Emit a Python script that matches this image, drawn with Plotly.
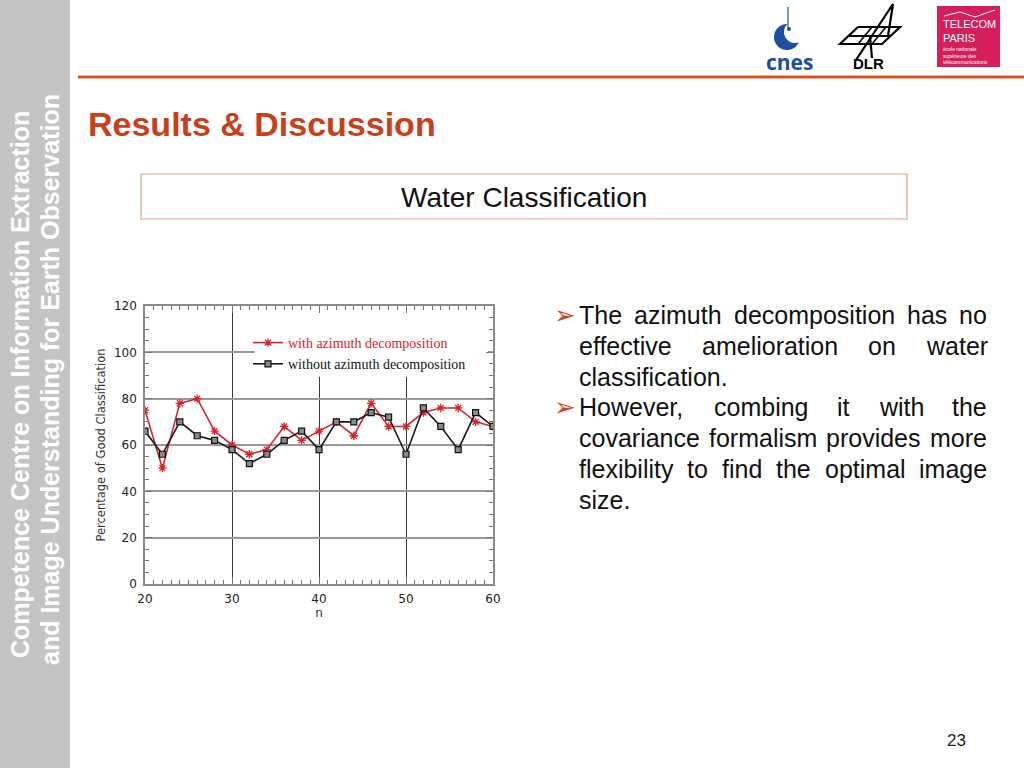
import plotly.graph_objects as go

# ---------------- data ----------------
n_values = list(range(20, 61, 2))
with_azimuth = [75, 50, 78, 80, 66, 60, 56, 58, 68, 62, 66, 70, 64, 78, 68, 68, 74, 76, 76, 70, 68]
without_azimuth = [66, 56, 70, 64, 62, 58, 52, 56, 62, 66, 58, 70, 70, 74, 72, 56, 76, 68, 58, 74, 68]
y_ticks = [0, 20, 40, 60, 80, 100, 120]
x_ticks = [20, 30, 40, 50, 60]

series_names = ["with azimuth decomposition", "without azimuth decomposition"]

slide_title = "Results & Discussion"
box_title = "Water Classification"
side_line1 = "Competence Centre on Information Extraction"
side_line2 = "and Image Understanding for Earth Observation"
bullet_lines = [
    ("The azimuth decomposition has no", True, True),
    ("effective amelioration on water", False, True),
    ("classification.", False, False),
    ("However, combing it with the", True, True),
    ("covariance formalism provides more", False, True),
    ("flexibility to find the optimal image", False, True),
    ("size.", False, False),
]
page_number = "23"

W, H = 1024, 768


def px(x):
    return x / W


def py(y):
    return 1 - y / H


RED = "#d8232a"
TITLE_ORANGE = "#c8401a"

fig = go.Figure()

fig.add_trace(go.Scatter(
    x=n_values, y=with_azimuth, mode="lines+markers",
    name="<span style='color:#d8232a'>" + series_names[0] + "</span>",
    line=dict(color=RED, width=1.6),
    marker=dict(symbol="asterisk-open", size=7, line=dict(color=RED, width=1.3)),
))
fig.add_trace(go.Scatter(
    x=n_values, y=without_azimuth, mode="lines+markers",
    name=series_names[1],
    line=dict(color="#1a1a1a", width=1.6),
    marker=dict(symbol="square", size=6, color="#8a8a8a", line=dict(color="#111", width=1.2)),
))

# plot area in pixels: x 145..493, y 306..584
x_dom = [px(145), px(493)]
y_dom = [py(584), py(306)]

tick_font = dict(family="DejaVu Sans", size=12, color="#222")

fig.update_xaxes(
    domain=x_dom, range=[20, 60], tickvals=x_ticks, ticktext=[str(v) for v in x_ticks],
    showgrid=True, gridcolor="#3a3a3a", gridwidth=1,
    showline=True, linecolor="#8a8a8a", linewidth=1.5, mirror="allticks",
    ticks="inside", ticklen=7, tickcolor="#777", tickwidth=1,
    minor=dict(dtick=1, ticks="inside", ticklen=4, tickcolor="#777", showgrid=False),
    tickfont=tick_font, zeroline=False, ticklabelstandoff=3,
    title=dict(text="n", font=dict(family="DejaVu Sans", size=12, color="#333"), standoff=2),
    automargin=False,
)
fig.update_yaxes(
    domain=y_dom, range=[0, 120], tickvals=y_ticks, ticktext=[str(v) for v in y_ticks],
    showgrid=True, gridcolor="#9a9a9a", gridwidth=1.5,
    showline=True, linecolor="#8a8a8a", linewidth=1.5, mirror="allticks",
    ticks="inside", ticklen=7, tickcolor="#777", tickwidth=1,
    minor=dict(dtick=5, ticks="inside", ticklen=4, tickcolor="#777", showgrid=False),
    tickfont=tick_font, zeroline=False, ticklabelstandoff=4,
    title=dict(text="Percentage of Good Classification",
               font=dict(family="DejaVu Sans", size=11.5, color="#333"), standoff=6),
    automargin=False,
)

shapes = []
# white box behind legend (hides grid lines)
shapes.append(dict(type="rect", xref="x", yref="y", x0=32.6, x1=59.4, y0=89.5, y1=118.5,
                   fillcolor="white", line=dict(width=0), layer="between"))

# left gray bar
shapes.append(dict(type="rect", xref="paper", yref="paper", x0=0, x1=px(70), y0=0, y1=1,
                   fillcolor="#c4c4c4", line=dict(width=0), layer="below"))
# orange rule
shapes.append(dict(type="line", xref="paper", yref="paper", x0=px(78), x1=1, y0=py(77), y1=py(77),
                   line=dict(color="#d4561f", width=3)))
# water classification box
shapes.append(dict(type="rect", xref="paper", yref="paper", x0=px(141), x1=px(907), y0=py(219), y1=py(174),
                   fillcolor="white", line=dict(color="#e6a283", width=1.2), layer="below"))


# cnes logo (crescent)
def circle(cx, cy, r, color):
    return dict(type="circle", xref="paper", yref="paper", x0=px(cx - r), x1=px(cx + r),
                y0=py(cy + r), y1=py(cy - r), fillcolor=color, line=dict(width=0))


shapes.append(circle(787, 37, 13, "#1f4e9a"))
shapes.append(circle(795, 32, 11, "white"))
shapes.append(dict(type="line", xref="paper", yref="paper", x0=px(788), x1=px(788), y0=py(7), y1=py(28),
                   line=dict(color="#1f4e9a", width=1.2)))
shapes.append(circle(789, 29, 2, "#1f4e9a"))


# DLR logo (outline)
def pline(pts, width=2.2, color="black"):
    path = "M " + " L ".join(f"{px(a):.5f},{py(b):.5f}" for a, b in pts)
    return dict(type="path", xref="paper", yref="paper", path=path, line=dict(color=color, width=width))


shapes.append(pline([(858, 27), (900, 27), (882, 44), (840, 44), (858, 27)]))
shapes.append(pline([(849, 36), (891, 36)]))
shapes.append(pline([(872, 27), (858, 44)], 1.6))
shapes.append(pline([(886, 27), (872, 44)], 1.6))
shapes.append(pline([(856, 60), (893, 4), (888, 36)], 2.2))
shapes.append(pline([(870, 36), (872, 58)], 2.2))

# telecom paris box
shapes.append(dict(type="rect", xref="paper", yref="paper", x0=px(937), x1=px(1000), y0=py(67), y1=py(6),
                   fillcolor="#d61f5a", line=dict(width=0)))
shapes.append(pline([(944, 16), (960, 12), (975, 17), (995, 10)], 1, "white"))

annotations = []

# sidebar vertical texts
annotations.append(dict(text=side_line1, xref="paper", yref="paper", x=px(20), y=py(385),
                        textangle=-90, showarrow=False, xanchor="center", yanchor="middle",
                        font=dict(family="Liberation Sans", size=25, color="white", weight="bold")))
annotations.append(dict(text=side_line2, xref="paper", yref="paper", x=px(50), y=py(380),
                        textangle=-90, showarrow=False, xanchor="center", yanchor="middle",
                        font=dict(family="Liberation Sans", size=25, color="white", weight="bold")))

# title
annotations.append(dict(text=slide_title, xref="paper", yref="paper", x=px(86), y=py(124),
                        showarrow=False, xanchor="left", yanchor="middle",
                        font=dict(family="Liberation Sans", size=34, color=TITLE_ORANGE, weight="bold")))
# box title
annotations.append(dict(text=box_title, xref="paper", yref="paper", x=px(524), y=py(197),
                        showarrow=False, xanchor="center", yanchor="middle",
                        font=dict(family="Liberation Sans", size=28, color="#111")))

# logo texts
annotations.append(dict(text="cnes", xref="paper", yref="paper", x=px(789), y=py(62),
                        showarrow=False, xanchor="center", yanchor="middle",
                        font=dict(family="Open Sans", size=21, color="#1f4e9a", weight="bold")))
annotations.append(dict(text="DLR", xref="paper", yref="paper", x=px(868), y=py(63),
                        showarrow=False, xanchor="center", yanchor="middle",
                        font=dict(family="Liberation Sans", size=15, color="black", weight="bold")))
annotations.append(dict(text="TELECOM<br>PARIS", xref="paper", yref="paper", x=px(941), y=py(31),
                        showarrow=False, xanchor="left", yanchor="middle", align="left",
                        font=dict(family="Liberation Sans", size=11, color="white")))
annotations.append(dict(text="école nationale<br>supérieure des<br>télécommunications", xref="paper", yref="paper",
                        x=px(941), y=py(55), showarrow=False, xanchor="left", yanchor="middle", align="left",
                        font=dict(family="Liberation Sans", size=5, color="white")))

# page number
annotations.append(dict(text=page_number, xref="paper", yref="paper", x=px(956), y=py(740),
                        showarrow=False, xanchor="center", yanchor="middle",
                        font=dict(family="Liberation Sans", size=17, color="#222")))

# justified bullet text
ARIAL = {' ': 278, 'a': 556, 'b': 556, 'c': 500, 'd': 556, 'e': 556, 'f': 278, 'g': 556, 'h': 556,
         'i': 222, 'j': 222, 'k': 500, 'l': 222, 'm': 833, 'n': 556, 'o': 556, 'p': 556, 'q': 556,
         'r': 333, 's': 500, 't': 278, 'u': 556, 'v': 500, 'w': 722, 'x': 500, 'y': 500, 'z': 500,
         'T': 611, 'H': 722, ',': 278, '.': 278}


def text_w(s, size):
    return sum(ARIAL.get(ch, 556) for ch in s) * size / 1000.0


BSIZE = 25
left, right = 577, 985
line_y0, line_dy = 315, 30.8
for i, (line, has_bullet, justify) in enumerate(bullet_lines):
    yc = line_y0 + i * line_dy
    if has_bullet:
        annotations.append(dict(text="➢", xref="paper", yref="paper", x=px(552), y=py(yc),
                                showarrow=False, xanchor="left", yanchor="middle",
                                font=dict(family="DejaVu Sans", size=26, color="#d0461c")))
    words = line.split(" ")
    if justify and len(words) > 1:
        total = sum(text_w(w, BSIZE) for w in words)
        gap = (right - left - total) / (len(words) - 1)
        xcur = left
        for w in words:
            annotations.append(dict(text=w, xref="paper", yref="paper", x=px(xcur), y=py(yc),
                                    showarrow=False, xanchor="left", yanchor="middle",
                                    font=dict(family="Liberation Sans", size=BSIZE, color="#111")))
            xcur += text_w(w, BSIZE) + gap
    else:
        annotations.append(dict(text=line, xref="paper", yref="paper", x=px(left), y=py(yc),
                                showarrow=False, xanchor="left", yanchor="middle",
                                font=dict(family="Liberation Sans", size=BSIZE, color="#111")))

fig.update_layout(
    width=W, height=H,
    margin=dict(l=0, r=0, t=0, b=0),
    paper_bgcolor="white", plot_bgcolor="white",
    showlegend=True,
    legend=dict(x=px(248), y=py(327), xanchor="left", yanchor="top", bgcolor="rgba(0,0,0,0)",
                font=dict(family="Liberation Serif", size=14, color="#111"),
                tracegroupgap=0, itemwidth=30),
    shapes=shapes,
    annotations=annotations,
)

fig.write_html("out.html", config={"displayModeBar": False},
               post_script="document.body.style.margin='0px';")
